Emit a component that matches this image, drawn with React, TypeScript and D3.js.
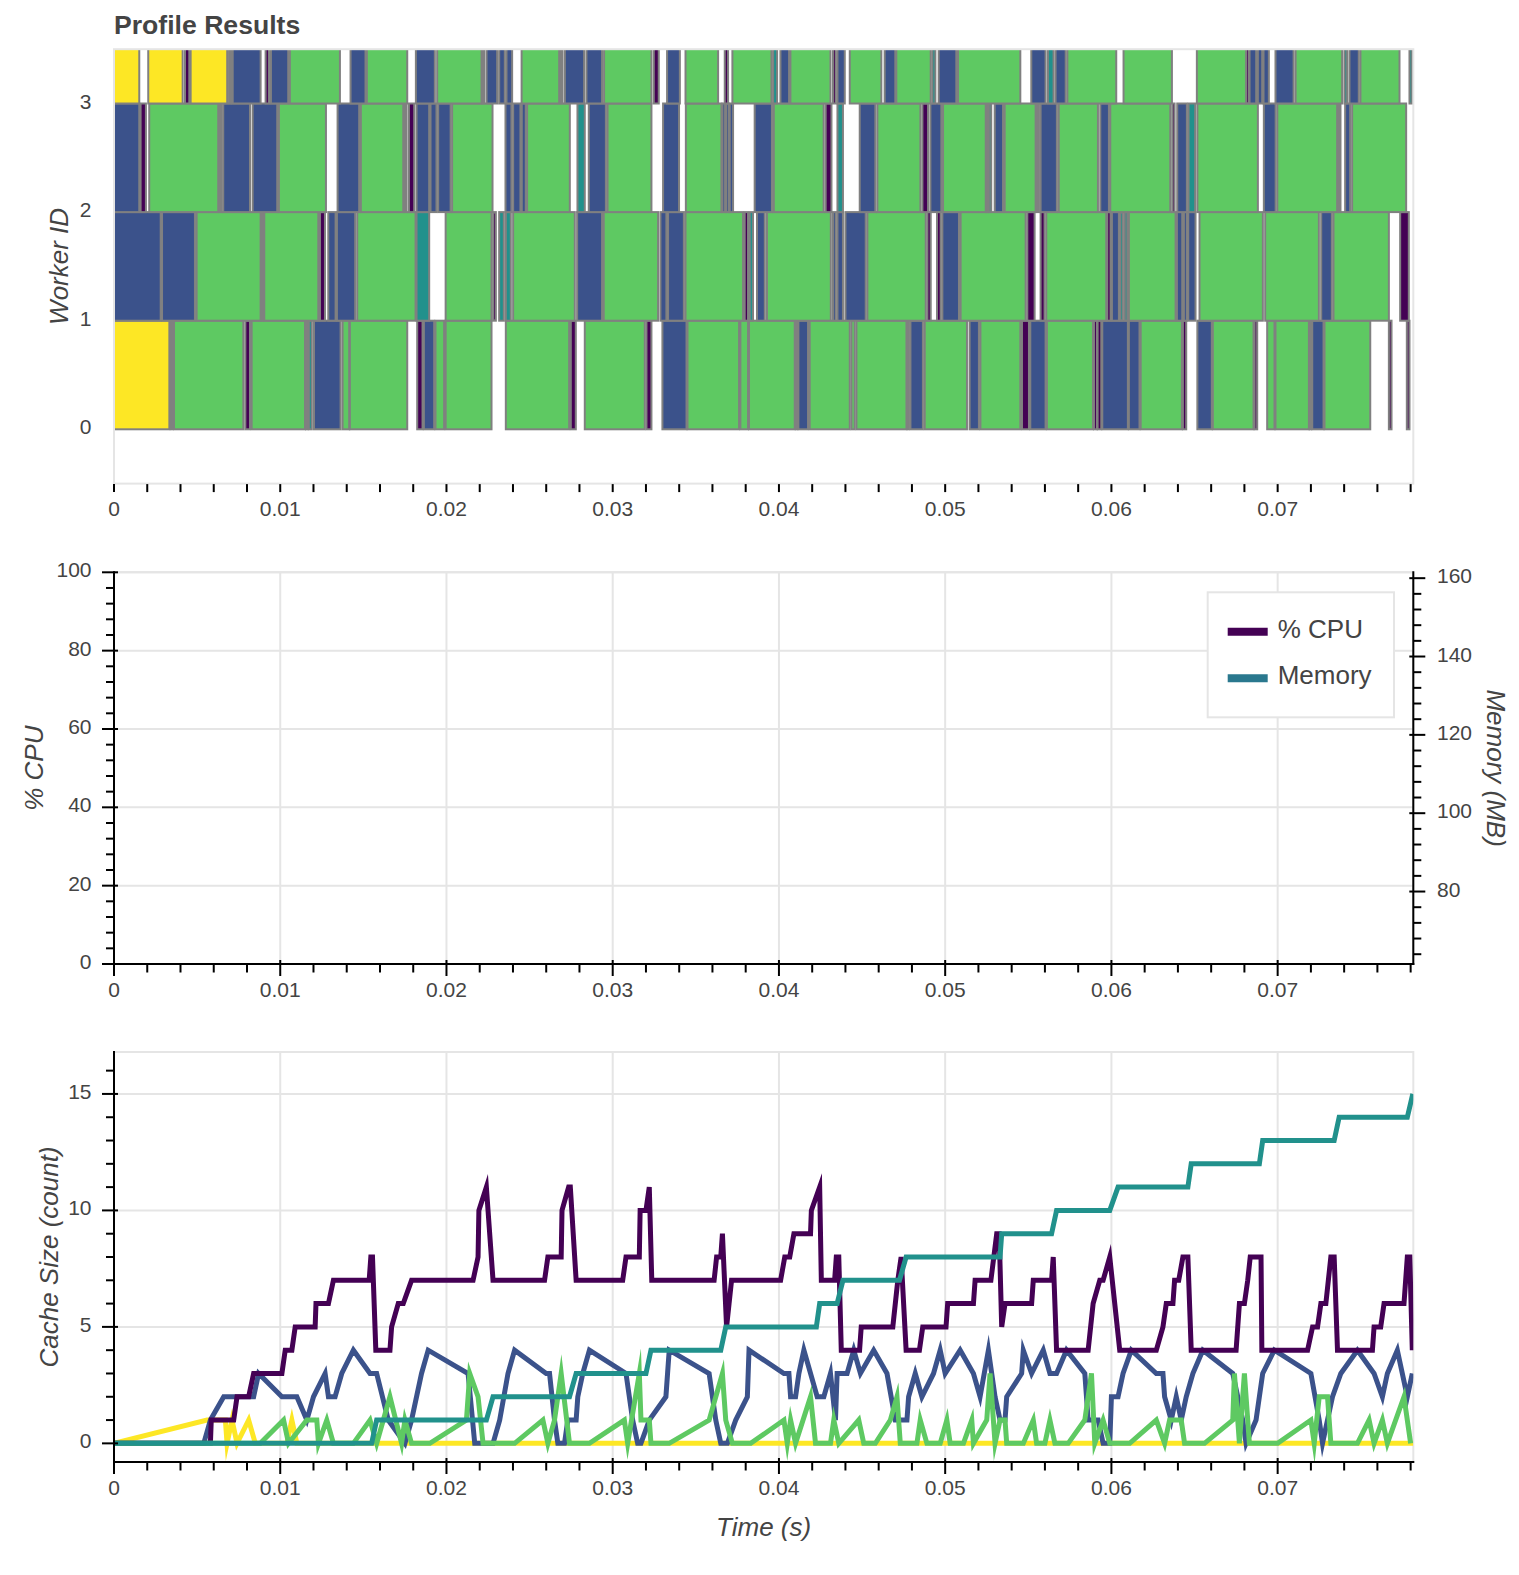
import React, { useEffect, useRef } from "react";
import * as d3 from "d3";

const palette = ["#440154", "#3b528b", "#21918c", "#5ec962", "#fde725"];

// tasks per worker: [start ms, end ms, task type]
const worker0Tasks = [
  [0, 3.33, 4], [3.41, 3.53, 0], [3.61, 7.78, 3], [7.9, 8.18, 0], [8.28, 11.49, 3], [11.55, 11.65, 3],
  [11.72, 11.9, 2], [12.03, 13.63, 1], [13.75, 14.15, 3], [14.19, 17.64, 3], [18.24, 18.56, 0],
  [18.64, 19.26, 1], [19.34, 19.86, 3], [19.95, 22.71, 3], [23.57, 27.38, 3], [27.48, 27.78, 0],
  [28.32, 31.93, 3], [32.03, 32.33, 0], [32.99, 34.44, 1], [34.5, 37.6, 3], [37.68, 38.14, 3],
  [38.2, 40.95, 3], [41.01, 41.11, 0], [41.17, 41.75, 1], [41.85, 44.26, 3], [44.36, 44.56, 3],
  [44.66, 47.67, 3], [47.73, 47.82, 0], [47.91, 48.66, 1], [48.77, 51.31, 3], [51.47, 52.03, 1],
  [52.12, 54.52, 3], [54.62, 55.04, 0], [55.12, 56.04, 1], [56.12, 58.89, 3], [58.95, 59.13, 0],
  [59.17, 59.39, 0], [59.45, 60.99, 1], [61.05, 61.69, 1], [61.76, 64.24, 3], [64.3, 64.5, 0],
  [65.17, 66.04, 1], [66.1, 68.55, 3], [68.61, 68.77, 0], [69.37, 69.81, 3], [69.87, 71.88, 3],
  [71.92, 72.02, 0], [72.08, 72.76, 1], [72.82, 75.57, 3], [76.69, 76.85, 0], [77.77, 77.93, 0],
];
const worker1Tasks = [
  [0, 2.81, 1], [2.89, 4.87, 1], [4.97, 8.82, 3], [8.88, 8.98, 3], [9.04, 12.29, 3], [12.39, 12.69, 0],
  [12.89, 13.33, 1], [13.41, 14.51, 1], [14.63, 18.14, 3], [18.2, 18.96, 2], [19.95, 22.71, 3],
  [22.81, 22.97, 0], [23.17, 23.45, 2], [23.57, 23.87, 2], [24.01, 27.72, 3], [27.86, 29.36, 1],
  [29.46, 32.73, 3], [32.87, 33.23, 1], [33.33, 34.28, 1], [34.38, 37.84, 3], [37.94, 38.14, 0],
  [38.24, 38.44, 2], [38.68, 39.15, 1], [39.28, 43.12, 3], [43.25, 43.42, 1], [43.52, 43.85, 1],
  [44.0, 45.22, 1], [45.32, 48.83, 3], [48.93, 49.13, 0], [49.51, 49.73, 0], [49.83, 50.83, 1],
  [50.93, 54.84, 3], [54.94, 55.38, 0], [55.74, 55.98, 0], [56.08, 59.69, 3], [59.75, 59.95, 0],
  [60.03, 60.45, 1], [60.53, 60.69, 2], [60.8, 60.96, 2], [61.05, 63.86, 3], [63.94, 64.26, 1],
  [64.36, 64.54, 1], [64.62, 65.06, 1], [65.3, 69.11, 3], [69.25, 72.48, 3], [72.62, 73.26, 1],
  [73.36, 76.69, 3], [77.37, 77.89, 0],
];
const worker2Tasks = [
  [0, 1.52, 1], [1.6, 1.92, 0], [2.12, 6.27, 3], [6.37, 6.48, 0], [6.57, 8.18, 1], [8.34, 9.82, 1],
  [9.92, 12.75, 3], [13.45, 14.75, 1], [14.85, 17.4, 3], [17.5, 17.6, 0], [17.74, 18.06, 0],
  [18.2, 18.96, 1], [19.04, 19.4, 1], [19.5, 20.25, 1], [20.34, 22.77, 3], [23.55, 23.91, 1],
  [24.01, 24.45, 1], [24.53, 24.77, 1], [24.85, 27.42, 3], [27.88, 28.32, 2], [28.56, 29.59, 1],
  [29.69, 32.33, 3], [33.03, 33.99, 1], [34.4, 36.54, 3], [36.6, 36.76, 1], [36.82, 36.98, 1],
  [37.04, 37.24, 1], [38.54, 39.58, 1], [39.69, 42.69, 3], [42.81, 43.16, 0], [43.52, 43.85, 2],
  [44.86, 45.8, 1], [45.92, 48.51, 3], [48.63, 48.97, 0], [49.11, 49.77, 1], [49.87, 52.44, 3],
  [52.5, 52.58, 0], [52.63, 52.77, 2], [52.98, 53.48, 1], [53.58, 55.44, 3], [55.52, 55.64, 0],
  [55.74, 56.72, 1], [56.83, 59.19, 3], [59.33, 59.85, 1], [59.93, 63.54, 3], [63.66, 63.8, 0],
  [63.96, 64.54, 1], [64.64, 65.04, 2], [65.17, 68.81, 3], [69.17, 69.88, 1], [69.98, 73.58, 3],
  [73.66, 73.78, 0], [74.06, 74.36, 1], [74.48, 77.73, 3],
];
const worker3Tasks = [
  [0, 1.52, 4], [2.06, 4.13, 4], [4.27, 4.53, 0], [4.61, 6.81, 4], [6.92, 7.04, 0], [7.14, 8.82, 1],
  [9.12, 9.32, 0], [9.44, 10.48, 1], [10.58, 13.59, 3], [14.23, 15.13, 1], [15.21, 17.64, 3],
  [18.16, 19.3, 1], [19.44, 22.11, 3], [22.17, 22.27, 0], [22.41, 23.05, 1], [23.17, 23.51, 1],
  [23.61, 23.95, 1], [24.52, 26.78, 3], [26.86, 26.98, 0], [27.12, 28.28, 1], [28.42, 29.36, 1],
  [29.48, 32.33, 3], [32.47, 32.77, 0], [33.27, 34.04, 1], [34.38, 36.34, 3], [36.74, 36.94, 0],
  [37.2, 39.55, 3], [39.65, 39.89, 2], [40.09, 40.61, 1], [40.69, 43.1, 3], [43.25, 43.42, 0],
  [43.52, 43.96, 1], [44.26, 46.16, 3], [46.36, 47.0, 1], [47.06, 49.13, 3], [49.23, 49.41, 2],
  [49.61, 50.67, 1], [50.77, 54.52, 3], [55.18, 56.04, 1], [56.18, 56.52, 2], [56.64, 57.25, 1],
  [57.35, 60.29, 3], [60.73, 63.64, 3], [65.14, 68.11, 3], [68.11, 68.27, 0], [68.31, 68.71, 1],
  [68.81, 69.07, 1], [69.15, 69.47, 1], [69.87, 70.96, 1], [71.08, 73.88, 3], [74.02, 74.18, 2],
  [74.32, 74.88, 1], [74.98, 77.33, 3], [77.93, 78.09, 2],
];

const workerIds = [0, 1, 2, 3];
const timeTicks = [0, 0.01, 0.02, 0.03, 0.04, 0.05, 0.06, 0.07];
const timeTickLabels = ["0", "0.01", "0.02", "0.03", "0.04", "0.05", "0.06", "0.07"];
const cpuTicks = [0, 20, 40, 60, 80, 100];
const memoryTicks = [80, 100, 120, 140, 160];
const cacheTicks = [0, 5, 10, 15];

// resource profile is empty in the reference
const cpuPoints: number[][] = [];
const memoryPoints: number[][] = [];

// cache size: [time ms, count]
const cacheYellow = [
  [0, 0], [5.6, 1], [6.7, 1], [6.8, 0], [7.1, 1], [7.4, 0], [8.1, 1], [8.5, 0], [10.4, 0], [10.7, 1],
  [11.0, 0], [78.16, 0],
];
const cachePurple = [
  [0, 0], [5.8, 0], [5.85, 1], [7.2, 1], [7.4, 2], [8.1, 2], [8.4, 3], [10.1, 3], [10.3, 4], [10.7, 4],
  [10.9, 5], [12.1, 5], [12.15, 6], [12.9, 6], [13.2, 7], [15.35, 7], [15.45, 8], [15.55, 8], [15.75, 4],
  [16.6, 4], [16.7, 5], [17.1, 6], [17.4, 6], [17.9, 7], [21.6, 7], [21.9, 8], [21.95, 10], [22.4, 11],
  [22.8, 7], [25.9, 7], [26.1, 8], [26.9, 8], [26.95, 10], [27.35, 11], [27.45, 11], [27.8, 7], [30.6, 7],
  [30.8, 8], [31.6, 8], [31.65, 10], [32.0, 10], [32.2, 11], [32.35, 7], [36.1, 7], [36.25, 8], [36.5, 8],
  [36.6, 9], [36.85, 5], [37.0, 6], [37.15, 7], [40.1, 7], [40.35, 8], [40.65, 8], [40.9, 9], [41.9, 9],
  [41.95, 10], [42.45, 11], [42.55, 7], [43.35, 7], [43.45, 8], [43.6, 8], [43.75, 4], [44.85, 4],
  [44.95, 5], [46.85, 5], [47.15, 7], [47.35, 8], [47.65, 4], [48.45, 4], [48.65, 5], [50.05, 5],
  [50.15, 6], [51.7, 6], [51.8, 7], [52.75, 7], [53.1, 9], [53.25, 9], [53.4, 5], [53.6, 6], [55.2, 6],
  [55.3, 7], [56.4, 7], [56.5, 8], [56.7, 4], [58.6, 4], [58.9, 6], [59.3, 7], [59.5, 7], [59.9, 8],
  [60.5, 4], [62.7, 4], [63.1, 5], [63.3, 6], [63.7, 6], [63.8, 7], [64.05, 7], [64.3, 8], [64.6, 8],
  [64.8, 4], [67.5, 4], [67.7, 6], [68.0, 6], [68.2, 7], [68.35, 8], [69.0, 8], [69.05, 4], [71.8, 4],
  [72.1, 5], [72.4, 5], [72.6, 6], [72.9, 6], [73.2, 8], [73.4, 8], [73.6, 4], [75.7, 4], [75.8, 5],
  [76.2, 5], [76.4, 6], [77.6, 6], [77.8, 8], [77.95, 8], [78.1, 4],
];
const cacheBlue = [
  [0, 0], [5.4, 0], [5.8, 1], [6.6, 2], [8.4, 2], [8.7, 3], [10.1, 2], [11.0, 2], [11.6, 1], [12.0, 2],
  [12.7, 3], [12.9, 2], [13.3, 2], [13.7, 3], [14.4, 4], [15.4, 3], [15.8, 3], [16.5, 1], [17.5, 0],
  [17.9, 1], [18.5, 3], [18.9, 4], [21.3, 3], [21.7, 0], [22.8, 0], [23.2, 1], [23.7, 3], [24.1, 4],
  [26.0, 3], [26.2, 3], [26.5, 1], [26.7, 0], [27.1, 0], [27.3, 1], [27.8, 1], [27.9, 2], [28.2, 3],
  [28.6, 4], [30.8, 3], [31.2, 1], [31.5, 0], [31.7, 0], [32.2, 1], [33.2, 2], [33.4, 4], [35.8, 3],
  [36.2, 1], [36.5, 0], [36.9, 0], [37.4, 1], [38.1, 2], [38.2, 4], [40.3, 3], [40.6, 3], [40.7, 2],
  [41.0, 2], [41.2, 3], [41.5, 4], [42.3, 2], [42.7, 2], [43.1, 3], [43.4, 1], [43.5, 3], [44.1, 3],
  [44.5, 4], [44.9, 3], [45.7, 4], [46.5, 3], [47.0, 1], [47.7, 1], [47.8, 2], [48.2, 3], [48.6, 2],
  [49.3, 3], [49.7, 4], [50.0, 3], [50.9, 4], [51.7, 3], [52.1, 2], [52.6, 4], [53.0, 2], [53.3, 1],
  [53.6, 1], [53.7, 2], [54.6, 3], [54.7, 4], [55.2, 3], [55.9, 4], [56.3, 3], [56.7, 3], [57.3, 4],
  [58.4, 3], [58.6, 1], [59.2, 1], [59.5, 0], [59.9, 0], [60.0, 2], [60.4, 2], [60.7, 3], [61.2, 4],
  [62.7, 3], [63.1, 3], [63.2, 2], [63.6, 1], [63.9, 2], [64.2, 1], [64.5, 2], [64.9, 3], [65.5, 4],
  [67.3, 3], [67.9, 1], [68.1, 0], [68.7, 1], [69.1, 3], [69.8, 4], [72.0, 3], [72.5, 1], [72.7, 0],
  [73.3, 2], [73.8, 3], [74.8, 4], [75.8, 3], [76.3, 2], [76.6, 3], [77.2, 4], [77.8, 2], [78.1, 3],
];
const cacheGreen = [
  [0, 0], [8.8, 0], [10.2, 1], [10.5, 0], [11.6, 1], [12.2, 1], [12.3, 0], [12.8, 1], [13.2, 0],
  [14.4, 0], [15.4, 1], [15.8, 0], [16.6, 2], [17.3, 0], [17.5, 1], [17.9, 0], [19.0, 0], [21.2, 1],
  [21.4, 3], [21.9, 2], [22.2, 0], [24.1, 0], [25.8, 1], [26.1, 0], [26.5, 1], [26.9, 3], [27.4, 0],
  [28.6, 0], [30.7, 1], [30.9, 0], [31.6, 3], [31.7, 1], [32.2, 1], [32.3, 0], [33.4, 0], [35.8, 1],
  [36.6, 3], [36.8, 1], [37.2, 0], [38.3, 0], [40.3, 1], [40.5, 0], [40.7, 1], [41.0, 0], [41.9, 2],
  [42.2, 0], [43.1, 0], [43.3, 1], [43.6, 0], [44.8, 1], [45.1, 0], [45.8, 0], [46.7, 1], [47.1, 2],
  [47.3, 0], [48.3, 0], [48.5, 1], [48.9, 0], [49.7, 0], [50.1, 1], [50.3, 0], [51.1, 0], [51.6, 1],
  [51.7, 0], [52.5, 1], [52.7, 3], [53.0, 0], [53.3, 1], [53.6, 1], [53.7, 0], [54.7, 0], [55.3, 1],
  [55.5, 0], [56.0, 0], [56.3, 1], [56.6, 0], [57.4, 0], [58.4, 1], [58.8, 3], [59.0, 0], [59.5, 1],
  [59.9, 0], [61.1, 0], [62.7, 1], [63.2, 0], [63.5, 1], [64.2, 1], [64.4, 0], [65.6, 0], [67.3, 1],
  [67.4, 3], [67.7, 0], [68.0, 3], [68.3, 0], [70.0, 0], [72.0, 1], [72.2, 0], [72.5, 2], [73.0, 2],
  [73.2, 0], [74.8, 0], [75.5, 1], [75.8, 0], [76.3, 1], [76.6, 0], [77.6, 2], [78.0, 0],
];
const cacheTeal = [
  [0, 0], [15.5, 0], [15.8, 1], [22.4, 1], [22.8, 2], [27.4, 2], [27.8, 3], [32.0, 3], [32.3, 4],
  [36.5, 4], [36.8, 5], [42.25, 5], [42.45, 6], [43.5, 6], [43.85, 7], [47.25, 7], [47.65, 8],
  [53.3, 8], [53.4, 9], [56.4, 9], [56.7, 10], [59.9, 10], [60.4, 11], [64.6, 11], [64.8, 12],
  [68.9, 12], [69.1, 13], [73.4, 13], [73.7, 14], [77.8, 14], [78.13, 15],
];

const FONT = "'Liberation Sans', Arial, Helvetica, sans-serif";
const TEXT = "#444444";
const GRID = "#e5e5e5";
const left = 114;
const right = 1413.3;
const timeMax = 0.07816;

function App() {
  const ref = useRef<SVGSVGElement>(null);

  useEffect(() => {
    const svg = d3.select(ref.current);
    svg.selectAll("*").remove();

    const x = d3.scaleLinear().domain([0, timeMax]).range([left, right]);
    const minorTimes = d3.range(0, timeMax, 0.002)
      .filter(t => !timeTicks.some(m => Math.abs(m - t) < 1e-9));

    const addText = (g, tx, ty, str, size, anchor = "start") =>
      g.append("text").attr("x", tx).attr("y", ty).text(str)
        .attr("font-family", FONT).attr("font-size", size)
        .attr("fill", TEXT).attr("text-anchor", anchor);

    const clipRect = (id, y0, y1) =>
      svg.append("clipPath").attr("id", id).append("rect")
        .attr("x", left).attr("y", y0).attr("width", right - left).attr("height", y1 - y0);

    const outline = (y0, y1) =>
      svg.append("rect").attr("x", left).attr("y", y0).attr("width", right - left)
        .attr("height", y1 - y0).attr("fill", "none").attr("stroke", GRID).attr("stroke-width", 2);

    const vline = (g, xx, y0, y1, w = 2, c = "#000") =>
      g.append("line").attr("x1", xx).attr("x2", xx).attr("y1", y0).attr("y2", y1)
        .attr("stroke", c).attr("stroke-width", w);
    const hline = (g, yy, x0, x1, w = 2, c = "#000") =>
      g.append("line").attr("x1", x0).attr("x2", x1).attr("y1", yy).attr("y2", yy)
        .attr("stroke", c).attr("stroke-width", w);

    const timeAxis = (y0, withLine) => {
      const g = svg.append("g");
      if (withLine) hline(g, y0, left - 1, right + 1);
      timeTicks.forEach(t => vline(g, x(t), withLine ? y0 - 4 : y0 + 0.5, withLine ? y0 + 12 : y0 + 8.5));
      minorTimes.forEach(t => vline(g, x(t), withLine ? y0 : y0 + 0.5, y0 + 8.5));
      timeTicks.forEach((t, i) => addText(g, x(t), y0 + 32.5, timeTickLabels[i], 21, "middle"));
    };

    const leftAxis = (y, ticks, minors, y0, y1) => {
      const g = svg.append("g");
      vline(g, left, y0 - 1, y1 + 1);
      ticks.forEach(v => hline(g, y(v), left - 12, left + 4));
      minors.forEach(v => hline(g, y(v), left - 8, left));
      ticks.forEach(v => addText(g, 91.5, y(v) + 5, String(v), 21, "end"));
    };

    // ---------- title ----------
    addText(svg, 114, 34, "Profile Results", 26.6).attr("font-weight", "bold");

    // ---------- task stream ----------
    const top0 = 49.2, top1 = 483.6;
    const yw = d3.scaleLinear().domain([-0.5, 3.5]).range([top1, top0]);
    clipRect("clip-top", top0, top1);
    const taskG = svg.append("g").attr("clip-path", "url(#clip-top)");
    [worker0Tasks, worker1Tasks, worker2Tasks, worker3Tasks].forEach((tasks, w) => {
      taskG.selectAll(null)
        .data(tasks)
        .enter()
        .append("rect")
        .attr("x", d => x(d[0] / 1000))
        .attr("y", yw(w + 1))
        .attr("width", d => x(d[1] / 1000) - x(d[0] / 1000))
        .attr("height", yw(w) - yw(w + 1))
        .attr("fill", d => palette[d[2]])
        .attr("stroke", "#808080")
        .attr("stroke-width", 2);
    });
    outline(top0, top1);
    timeAxis(top1, false);
    workerIds.forEach(w => addText(svg, 91.5, yw(w) + 5, String(w), 21, "end"));
    addText(svg, 0, 0, "Worker ID", 26, "middle")
      .attr("font-style", "italic")
      .attr("transform", `translate(68,${(top0 + top1) / 2}) rotate(-90)`)
      .attr("x", null).attr("y", null);

    // ---------- resource profile ----------
    const mid0 = 572.3, mid1 = 964;
    const yCpu = d3.scaleLinear().domain([0, 100]).range([mid1, mid0]);
    const yMem = d3.scaleLinear().domain([61.5, 161.5]).range([mid1, mid0]);
    const gridMid = svg.append("g");
    timeTicks.slice(1).forEach(t => vline(gridMid, x(t), mid0, mid1, 2, GRID));
    cpuTicks.slice(1).forEach(v => hline(gridMid, yCpu(v), left, right, 2, GRID));
    outline(mid0, mid1);
    clipRect("clip-mid", mid0, mid1);
    const midLines = svg.append("g").attr("clip-path", "url(#clip-mid)");
    if (cpuPoints.length) {
      midLines.append("path")
        .attr("d", d3.line().x(d => x(d[0])).y(d => yCpu(d[1]))(cpuPoints as any))
        .attr("fill", "none").attr("stroke", "#440154").attr("stroke-width", 4);
    }
    if (memoryPoints.length) {
      midLines.append("path")
        .attr("d", d3.line().x(d => x(d[0])).y(d => yMem(d[1]))(memoryPoints as any))
        .attr("fill", "none").attr("stroke", "#2a788e").attr("stroke-width", 4);
    }
    leftAxis(yCpu, cpuTicks, d3.range(4, 100, 4).filter(v => v % 20 !== 0), mid0, mid1);
    timeAxis(mid1, true);
    // right memory axis
    const rg = svg.append("g");
    vline(rg, right, mid0 - 1, mid1 + 1);
    memoryTicks.forEach(v => hline(rg, yMem(v), right - 4, right + 12));
    d3.range(64, 162, 4).filter(v => v % 20 !== 0).forEach(v => hline(rg, yMem(v), right, right + 8));
    memoryTicks.forEach(v => addText(rg, 1437, yMem(v) + 5, String(v), 21, "start"));

    addText(svg, 0, 0, "% CPU", 26, "middle")
      .attr("font-style", "italic")
      .attr("transform", `translate(43.3,${(mid0 + mid1) / 2}) rotate(-90)`)
      .attr("x", null).attr("y", null);
    addText(svg, 0, 0, "Memory (MB)", 26, "middle")
      .attr("font-style", "italic")
      .attr("transform", `translate(1486.5,${(mid0 + mid1) / 2}) rotate(90)`)
      .attr("x", null).attr("y", null);

    // legend
    const lg = svg.append("g");
    lg.append("rect").attr("x", 1207.7).attr("y", 592.3).attr("width", 186.3).attr("height", 125)
      .attr("fill", "#fff").attr("stroke", GRID).attr("stroke-width", 2);
    [["% CPU", "#440154", 631.7], ["Memory", "#2a788e", 678.3]].forEach(([label, color, ly]) => {
      hline(lg, ly as number, 1227.7, 1267.7, 8, color as string);
      addText(lg, 1277.7, (ly as number) + 6, label, 26);
    });

    // ---------- cache profile ----------
    const bot0 = 1052, bot1 = 1462;
    const yCache = d3.scaleLinear().domain([-0.8, 16.8]).range([bot1, bot0]);
    const gridBot = svg.append("g");
    timeTicks.slice(1).forEach(t => vline(gridBot, x(t), bot0, bot1, 2, GRID));
    cacheTicks.forEach(v => hline(gridBot, yCache(v), left, right, 2, GRID));
    outline(bot0, bot1);
    clipRect("clip-bot", bot0, bot1);
    const cacheG = svg.append("g").attr("clip-path", "url(#clip-bot)");
    const cacheLine = d3.line<number[]>().x(d => x(d[0] / 1000)).y(d => yCache(d[1]));
    [
      [cacheYellow, palette[4]],
      [cacheBlue, palette[1]],
      [cachePurple, palette[0]],
      [cacheGreen, palette[3]],
      [cacheTeal, palette[2]],
    ].forEach(([pts, color]) => {
      cacheG.append("path")
        .attr("d", cacheLine(pts as number[][]))
        .attr("fill", "none")
        .attr("stroke", color as string)
        .attr("stroke-width", 5)
        .attr("stroke-linejoin", "miter")
        .attr("stroke-miterlimit", 10);
    });
    leftAxis(yCache, cacheTicks, d3.range(1, 17, 1).filter(v => v % 5 !== 0), bot0, bot1);
    timeAxis(bot1, true);
    addText(svg, 0, 0, "Cache Size (count)", 26, "middle")
      .attr("font-style", "italic")
      .attr("transform", `translate(57.5,${(bot0 + bot1) / 2}) rotate(-90)`)
      .attr("x", null).attr("y", null);
    addText(svg, (left + right) / 2, 1536, "Time (s)", 26, "middle").attr("font-style", "italic");
  }, []);

  return (
    <svg ref={ref} width={1519} height={1575}
      style={{ position: "absolute", left: 0, top: 0, background: "#fff" }} />
  );
}

export default App;
